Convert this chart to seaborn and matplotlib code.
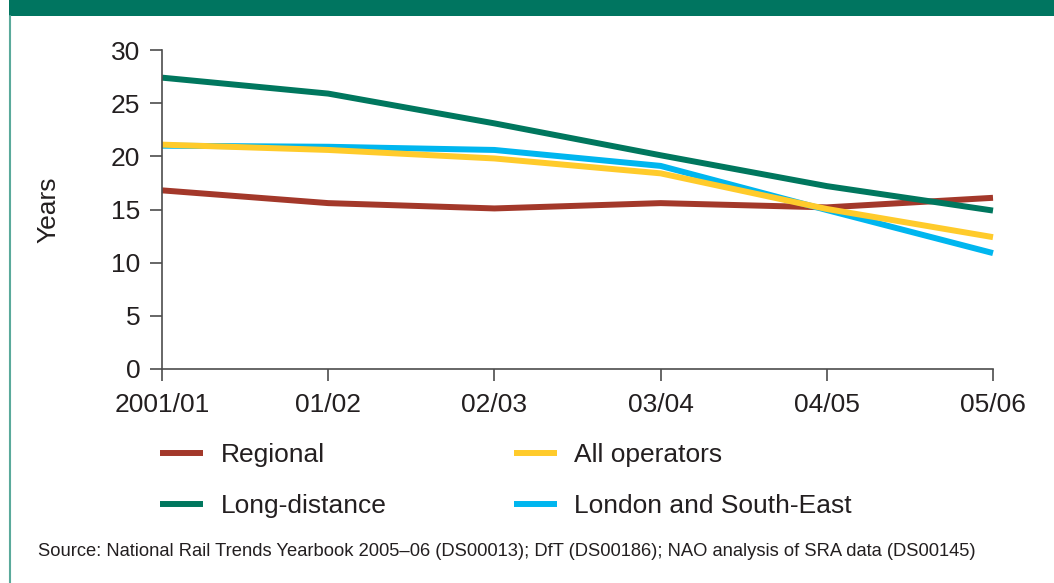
import matplotlib
matplotlib.use("Agg")
import matplotlib.pyplot as plt
import seaborn as sns
import pandas as pd
from matplotlib.patches import Rectangle
from matplotlib.lines import Line2D

years = ["2001/01", "01/02", "02/03", "03/04", "04/05", "05/06"]
regional = [16.8, 15.6, 15.1, 15.6, 15.2, 16.1]
long_distance = [27.4, 25.9, 23.1, 20.1, 17.2, 14.9]
all_operators = [21.1, 20.6, 19.8, 18.4, 15.05, 12.4]
london_se = [21.0, 20.9, 20.6, 19.1, 14.95, 10.9]

series_names = ["Regional", "Long-distance", "All operators", "London and South-East"]
series_values = [regional, long_distance, all_operators, london_se]
colors = ["#A3382A", "#00775E", "#FFCB2B", "#00B6EF"]

rows = []
for name, vals in zip(series_names, series_values):
    for i, (yr, v) in enumerate(zip(years, vals)):
        rows.append({"pos": i, "year": yr, "value": v, "series": name})
df = pd.DataFrame(rows)

sns.set_style("white")
plt.rcParams["font.family"] = ["Liberation Sans", "DejaVu Sans"]

FS = 19
LW = 4.3
fig = plt.figure(figsize=(10.54, 5.83), dpi=100)
W, H = 1054, 583
ax = fig.add_axes([162 / W, 1 - 369 / H, (993 - 162) / W, (369 - 50) / H])

draw_order = ["Regional", "Long-distance", "London and South-East", "All operators"]
pal = dict(zip(series_names, colors))
sns.lineplot(data=df, x="pos", y="value", hue="series", hue_order=draw_order,
             palette=pal, linewidth=LW, ax=ax, legend=False, sort=False)
for ln in ax.get_lines():
    ln.set_clip_on(False)
    ln.set_solid_joinstyle("round")
    ln.set_solid_capstyle("butt")

ax.set_xlim(0, 5)
ax.set_ylim(0, 30)
ax.set_xticks(range(len(years)))
ax.set_xticklabels(years)
ax.set_yticks(range(0, 31, 5))
ax.tick_params(axis="both", labelsize=FS, colors="#231f20", length=8.5, width=1.2,
               direction="out", bottom=True, left=True, color="#4d4d4d")
ax.tick_params(axis="x", pad=9)
ax.tick_params(axis="y", pad=7)
for s in ["top", "right"]:
    ax.spines[s].set_visible(False)
for s in ["left", "bottom"]:
    ax.spines[s].set_color("#4d4d4d")
    ax.spines[s].set_linewidth(1.2)
ax.set_xlabel("")
ax.set_ylabel("Years", fontsize=FS, color="#231f20")
ax.yaxis.set_label_coords((60 - 162) / (993 - 162), 0.5)

handles = [Line2D([], [], color=c, linewidth=LW, solid_capstyle="butt") for c in colors]
leg = fig.legend(handles, series_names, ncol=2, loc="upper left",
                 bbox_to_anchor=(160 / W, 1 - 443 / H), frameon=False,
                 fontsize=FS, handlelength=1.63, handletextpad=0.68,
                 columnspacing=4.8, labelspacing=1.03, borderpad=0,
                 borderaxespad=0)
for t in leg.get_texts():
    t.set_color("#231f20")

fig.text(38 / W, 1 - 551 / H,
         "Source: National Rail Trends Yearbook 2005–06 (DS00013); DfT (DS00186); NAO analysis of SRA data (DS00145)",
         fontsize=13.2, color="#231f20", va="center", ha="left")

# header band and left border
fig.patches.append(Rectangle((9 / W, 1 - 16 / H), 1, 16 / H, transform=fig.transFigure,
                             facecolor="#007560", edgecolor="none", zorder=0))
fig.lines.append(Line2D([10 / W, 10 / W], [0, 1 - 16 / H], transform=fig.transFigure,
                        color="#5aaa9b", linewidth=1.5))

fig.savefig("out.png", dpi=100)
